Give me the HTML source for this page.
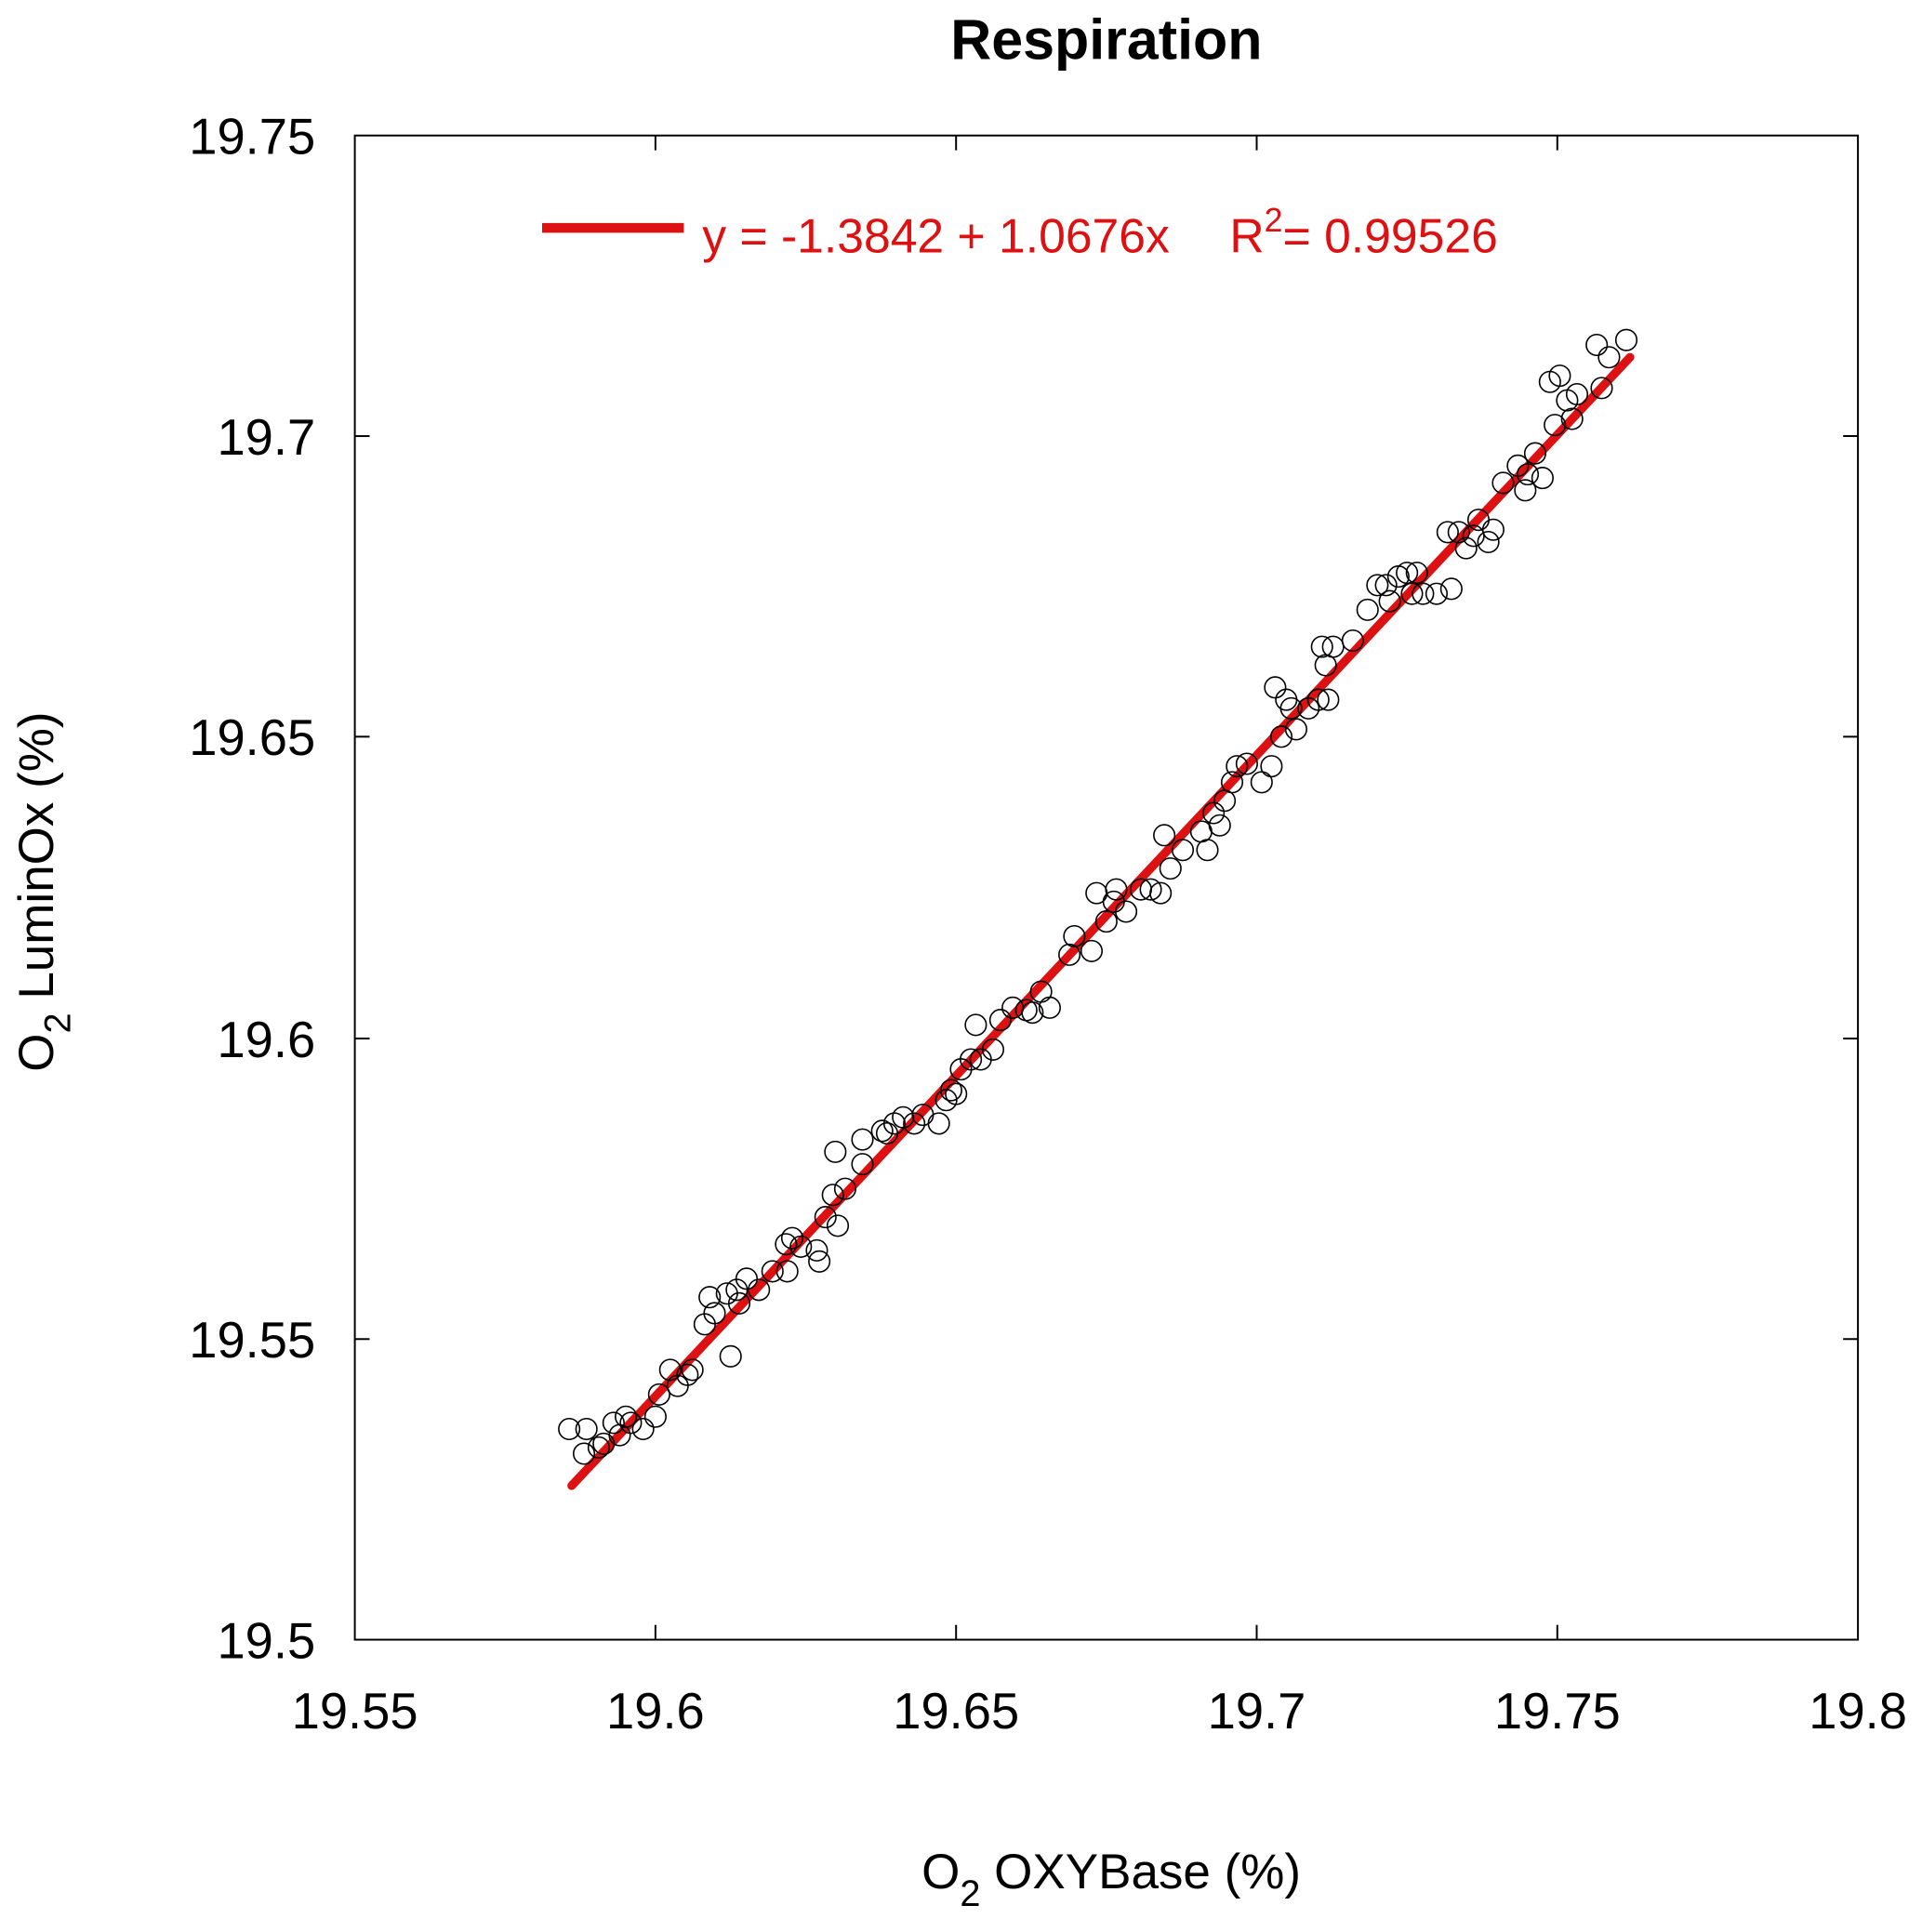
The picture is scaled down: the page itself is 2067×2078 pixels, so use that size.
<!DOCTYPE html>
<html><head><style>html,body{margin:0;padding:0;background:#fff}svg{display:block}</style></head>
<body>
<svg width="2067" height="2078" viewBox="0 0 1560 1568.3" preserveAspectRatio="none" xmlns="http://www.w3.org/2000/svg" font-family="Liberation Sans, Arial, sans-serif">
<rect width="1560" height="1569" fill="#fff"/>
<text x="898" y="48" font-size="46" font-weight="bold" text-anchor="middle">Respiration</text>
<rect x="288" y="110" width="1220" height="1221" fill="none" stroke="#000" stroke-width="1.5"/>
<g stroke="#000" stroke-width="1.5">
<line x1="532" y1="1331" x2="532" y2="1319"/><line x1="776" y1="1331" x2="776" y2="1319"/><line x1="1020" y1="1331" x2="1020" y2="1319"/><line x1="1264" y1="1331" x2="1264" y2="1319"/>
<line x1="532" y1="110" x2="532" y2="122"/><line x1="776" y1="110" x2="776" y2="122"/><line x1="1020" y1="110" x2="1020" y2="122"/><line x1="1264" y1="110" x2="1264" y2="122"/>
<line x1="288" y1="354" x2="300" y2="354"/><line x1="288" y1="598" x2="300" y2="598"/><line x1="288" y1="843" x2="300" y2="843"/><line x1="288" y1="1087" x2="300" y2="1087"/>
<line x1="1508" y1="354" x2="1496" y2="354"/><line x1="1508" y1="598" x2="1496" y2="598"/><line x1="1508" y1="843" x2="1496" y2="843"/><line x1="1508" y1="1087" x2="1496" y2="1087"/>
</g>
<g font-size="41" text-anchor="end">
<text x="256" y="125">19.75</text><text x="256" y="369">19.7</text><text x="256" y="613">19.65</text><text x="256" y="858">19.6</text><text x="256" y="1102">19.55</text><text x="256" y="1346">19.5</text>
</g>
<g font-size="41" text-anchor="middle">
<text x="288" y="1403">19.55</text><text x="532" y="1403">19.6</text><text x="776" y="1403">19.65</text><text x="1020" y="1403">19.7</text><text x="1264" y="1403">19.75</text><text x="1508" y="1403">19.8</text>
</g>
<text x="748" y="1533" font-size="40">O<tspan font-size="30" dy="14">2</tspan><tspan dy="-14"> OXYBase (%)</tspan></text>
<text transform="translate(43,870) rotate(-90)" font-size="40">O<tspan font-size="30" dy="14">2</tspan><tspan dy="-14"> LuminOx (%)</tspan></text>
<line x1="440" y1="185" x2="555" y2="185" stroke="#dd1111" stroke-width="8"/>
<text x="570" y="205" font-size="39" fill="#dd1111">y = -1.3842 + 1.0676x</text>
<text x="998" y="205" font-size="39" fill="#dd1111">R<tspan font-size="27" dy="-17">2</tspan><tspan dy="17">= 0.99526</tspan></text>
<line x1="464" y1="1206" x2="1323" y2="290" stroke="#dd1111" stroke-width="7" stroke-linecap="round"/>
<g fill="none" stroke="#000" stroke-width="1.2">
<circle cx="462" cy="1160" r="8.5"/><circle cx="476" cy="1160" r="8.5"/><circle cx="474" cy="1180" r="8.5"/><circle cx="486" cy="1175" r="8.5"/><circle cx="490" cy="1172" r="8.5"/><circle cx="498" cy="1155" r="8.5"/><circle cx="503" cy="1165" r="8.5"/><circle cx="508" cy="1150" r="8.5"/><circle cx="512" cy="1155" r="8.5"/><circle cx="522" cy="1160" r="8.5"/><circle cx="532" cy="1150" r="8.5"/><circle cx="535" cy="1132" r="8.5"/><circle cx="544" cy="1112" r="8.5"/><circle cx="550" cy="1125" r="8.5"/><circle cx="558" cy="1116" r="8.5"/><circle cx="562" cy="1112" r="8.5"/><circle cx="572" cy="1075" r="8.5"/><circle cx="576" cy="1053" r="8.5"/><circle cx="580" cy="1066" r="8.5"/><circle cx="590" cy="1050" r="8.5"/><circle cx="593" cy="1101" r="8.5"/><circle cx="598" cy="1047" r="8.5"/><circle cx="600" cy="1058" r="8.5"/><circle cx="606" cy="1038" r="8.5"/><circle cx="616" cy="1047" r="8.5"/><circle cx="627" cy="1032" r="8.5"/><circle cx="638" cy="1010" r="8.5"/><circle cx="639" cy="1032" r="8.5"/><circle cx="643" cy="1005" r="8.5"/><circle cx="650" cy="1012" r="8.5"/><circle cx="663" cy="1015" r="8.5"/><circle cx="665" cy="1024" r="8.5"/><circle cx="670" cy="988" r="8.5"/><circle cx="676" cy="970" r="8.5"/><circle cx="678" cy="935" r="8.5"/><circle cx="680" cy="995" r="8.5"/><circle cx="686" cy="965" r="8.5"/><circle cx="700" cy="945" r="8.5"/><circle cx="700" cy="925" r="8.5"/><circle cx="716" cy="918" r="8.5"/><circle cx="720" cy="920" r="8.5"/><circle cx="726" cy="912" r="8.5"/><circle cx="733" cy="907" r="8.5"/><circle cx="742" cy="912" r="8.5"/><circle cx="749" cy="905" r="8.5"/><circle cx="762" cy="912" r="8.5"/><circle cx="768" cy="893" r="8.5"/><circle cx="772" cy="885" r="8.5"/><circle cx="776" cy="888" r="8.5"/><circle cx="780" cy="868" r="8.5"/><circle cx="788" cy="860" r="8.5"/><circle cx="792" cy="832" r="8.5"/><circle cx="796" cy="860" r="8.5"/><circle cx="806" cy="852" r="8.5"/><circle cx="812" cy="828" r="8.5"/><circle cx="822" cy="818" r="8.5"/><circle cx="833" cy="820" r="8.5"/><circle cx="838" cy="822" r="8.5"/><circle cx="845" cy="805" r="8.5"/><circle cx="852" cy="818" r="8.5"/><circle cx="868" cy="775" r="8.5"/><circle cx="872" cy="760" r="8.5"/><circle cx="886" cy="772" r="8.5"/><circle cx="890" cy="725" r="8.5"/><circle cx="898" cy="748" r="8.5"/><circle cx="904" cy="732" r="8.5"/><circle cx="906" cy="722" r="8.5"/><circle cx="914" cy="740" r="8.5"/><circle cx="926" cy="722" r="8.5"/><circle cx="934" cy="722" r="8.5"/><circle cx="942" cy="725" r="8.5"/><circle cx="945" cy="678" r="8.5"/><circle cx="950" cy="705" r="8.5"/><circle cx="960" cy="690" r="8.5"/><circle cx="975" cy="675" r="8.5"/><circle cx="980" cy="690" r="8.5"/><circle cx="985" cy="660" r="8.5"/><circle cx="990" cy="670" r="8.5"/><circle cx="994" cy="650" r="8.5"/><circle cx="1000" cy="635" r="8.5"/><circle cx="1004" cy="622" r="8.5"/><circle cx="1012" cy="620" r="8.5"/><circle cx="1024" cy="635" r="8.5"/><circle cx="1032" cy="622" r="8.5"/><circle cx="1035" cy="558" r="8.5"/><circle cx="1040" cy="598" r="8.5"/><circle cx="1044" cy="568" r="8.5"/><circle cx="1048" cy="575" r="8.5"/><circle cx="1052" cy="592" r="8.5"/><circle cx="1062" cy="575" r="8.5"/><circle cx="1070" cy="568" r="8.5"/><circle cx="1073" cy="525" r="8.5"/><circle cx="1076" cy="540" r="8.5"/><circle cx="1078" cy="568" r="8.5"/><circle cx="1082" cy="525" r="8.5"/><circle cx="1098" cy="520" r="8.5"/><circle cx="1110" cy="495" r="8.5"/><circle cx="1118" cy="475" r="8.5"/><circle cx="1125" cy="475" r="8.5"/><circle cx="1128" cy="488" r="8.5"/><circle cx="1135" cy="468" r="8.5"/><circle cx="1142" cy="465" r="8.5"/><circle cx="1146" cy="482" r="8.5"/><circle cx="1150" cy="465" r="8.5"/><circle cx="1155" cy="482" r="8.5"/><circle cx="1166" cy="482" r="8.5"/><circle cx="1175" cy="432" r="8.5"/><circle cx="1178" cy="478" r="8.5"/><circle cx="1184" cy="432" r="8.5"/><circle cx="1190" cy="445" r="8.5"/><circle cx="1196" cy="435" r="8.5"/><circle cx="1200" cy="422" r="8.5"/><circle cx="1208" cy="440" r="8.5"/><circle cx="1212" cy="430" r="8.5"/><circle cx="1220" cy="392" r="8.5"/><circle cx="1232" cy="378" r="8.5"/><circle cx="1238" cy="398" r="8.5"/><circle cx="1240" cy="385" r="8.5"/><circle cx="1246" cy="368" r="8.5"/><circle cx="1252" cy="388" r="8.5"/><circle cx="1258" cy="310" r="8.5"/><circle cx="1262" cy="345" r="8.5"/><circle cx="1266" cy="305" r="8.5"/><circle cx="1272" cy="325" r="8.5"/><circle cx="1276" cy="340" r="8.5"/><circle cx="1280" cy="320" r="8.5"/><circle cx="1296" cy="280" r="8.5"/><circle cx="1300" cy="315" r="8.5"/><circle cx="1306" cy="290" r="8.5"/><circle cx="1320" cy="276" r="8.5"/>
</g>
</svg>
</body></html>
